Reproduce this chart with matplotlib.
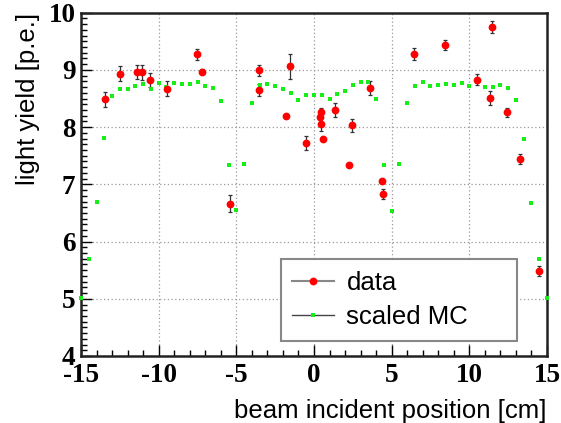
import numpy as np
import matplotlib
matplotlib.use('Agg')
import matplotlib.pyplot as plt
from matplotlib.lines import Line2D
from matplotlib.ticker import MultipleLocator

# measured light yield per beam position
data_x = [-13.47, -12.47, -11.38, -11.09, -10.58, -9.49, -7.51, -7.19,
          -5.41, -3.53, -3.53, -1.81, -1.53, -0.54, 0.36, 0.47, 0.47,
          0.57, 1.37, 2.25, 2.46, 3.58, 4.35, 4.43, 6.45, 8.44, 10.5,
          11.3, 11.43, 12.41, 13.29, 14.49]
data_y = [8.49, 8.93, 8.96, 8.96, 8.83, 8.67, 9.27, 8.97,
          6.66, 8.99, 8.65, 8.20, 9.06, 7.72, 8.18, 8.26, 8.05,
          7.79, 8.30, 7.34, 8.03, 8.68, 7.06, 6.83, 9.28, 9.44, 8.83,
          8.51, 9.75, 8.26, 7.44, 5.48]
data_err = [0.13, 0.13, 0.12, 0.13, 0.12, 0.13, 0.09, 0.04,
            0.15, 0.09, 0.11, 0.03, 0.22, 0.12, 0.05, 0.08, 0.11,
            0.03, 0.13, 0.03, 0.12, 0.12, 0.04, 0.08, 0.10, 0.09, 0.10,
            0.13, 0.11, 0.08, 0.09, 0.09]

# simulation, scaled, every 0.5 cm
mc_x = [-15.0, -14.5, -14.0, -13.5, -13.0, -12.5, -12.0, -11.5, -11.0, -10.5,
        -10.0, -9.5, -9.0, -8.5, -8.0, -7.5, -7.0, -6.5, -6.0, -5.5,
        -5.0, -4.5, -4.0, -3.5, -3.0, -2.5, -2.0, -1.5, -1.0, -0.5,
        0.0, 0.5, 1.0, 1.5, 2.0, 2.5, 3.0, 3.5, 4.0, 4.5,
        5.0, 5.5, 6.0, 6.5, 7.0, 7.5, 8.0, 8.5, 9.0, 9.5,
        10.0, 10.5, 11.0, 11.5, 12.0, 12.5, 13.0, 13.5, 14.0, 14.5, 15.0]
mc_y = [5.02, 5.69, 6.70, 7.81, 8.55, 8.67, 8.67, 8.72, 8.76, 8.66,
        8.77, 8.71, 8.77, 8.76, 8.75, 8.78, 8.72, 8.68, 8.45, 7.34,
        6.55, 7.35, 8.42, 8.74, 8.75, 8.72, 8.67, 8.59, 8.47, 8.56,
        8.56, 8.57, 8.50, 8.58, 8.64, 8.73, 8.79, 8.79, 8.49, 7.33,
        6.53, 7.36, 8.43, 8.72, 8.78, 8.72, 8.73, 8.76, 8.74, 8.77,
        8.72, 8.78, 8.70, 8.70, 8.73, 8.69, 8.47, 7.80, 6.68, 5.69, 5.01]

x_ticks = [-15, -10, -5, 0, 5, 10, 15]
y_ticks = [4, 5, 6, 7, 8, 9, 10]

RED = '#ff0000'
GREEN = '#16ee16'


def main():
    plt.rcParams['axes.unicode_minus'] = False
    fig = plt.figure(figsize=(5.61, 4.23), dpi=100)
    ax = fig.add_axes([0.1444, 0.1584, 0.8306, 0.8116])

    ax.errorbar(data_x, data_y, yerr=data_err, fmt='none', ecolor='#333333',
                elinewidth=0.9, capsize=1.6, capthick=0.9, zorder=3)
    ax.plot(mc_x, mc_y, 's', color=GREEN, markersize=2.3, markeredgewidth=0,
            zorder=4, clip_on=False)
    ax.plot(data_x, data_y, 'o', color=RED, markersize=5.6, markeredgewidth=0,
            zorder=5)

    ax.set_xlim(-15, 15)
    ax.set_ylim(4, 10)
    ax.set_xticks(x_ticks)
    ax.set_yticks(y_ticks)
    ax.xaxis.set_minor_locator(MultipleLocator(1))
    ax.yaxis.set_minor_locator(MultipleLocator(0.1))
    ax.grid(True, which='major', color='#999999', linestyle=(0, (1, 2)),
            linewidth=0.9)

    ax.tick_params(which='both', direction='in', top=False, right=False,
                   color='black', width=1.0)
    ax.tick_params(which='major', length=8)
    ax.tick_params(which='minor', length=4)
    ax.tick_params(axis='x', which='major', pad=5)
    ax.tick_params(axis='y', which='major', pad=4)
    for lab in ax.get_xticklabels() + ax.get_yticklabels():
        lab.set_fontfamily('Liberation Serif')
        lab.set_fontweight('bold')
        lab.set_fontsize(19.5)
    for side in ['left', 'bottom', 'top', 'right']:
        ax.spines[side].set_linewidth(1.8)
        ax.spines[side].set_color('#222222')

    ax.set_xlabel('beam incident position [cm]', fontfamily='Liberation Sans',
                  fontsize=18.5, loc='right', labelpad=8)
    ax.set_ylabel('light yield [p.e.]', fontfamily='Liberation Sans',
                  fontsize=18.5, loc='top', labelpad=6)

    handles = [
        Line2D([], [], color='#888888', linewidth=1.5, marker='o',
               markersize=5.6, markerfacecolor=RED, markeredgewidth=0),
        Line2D([], [], color='#444444', linewidth=1.0, marker='s',
               markersize=2.3, markerfacecolor=GREEN, markeredgewidth=0),
    ]
    leg = ax.legend(handles, ['data', 'scaled MC'], loc='lower left',
                    bbox_to_anchor=(0.429, 0.044, 0.507, 0.265), mode='expand',
                    fancybox=False, edgecolor='#888888', framealpha=1,
                    prop={'family': 'Liberation Sans', 'size': 18.5},
                    handlelength=1.6, handletextpad=0.5, labelspacing=0.4,
                    borderpad=0.45, borderaxespad=0)
    leg.get_frame().set_linewidth(1.5)

    fig.savefig('out.png', dpi=100)


if __name__ == '__main__':
    main()
